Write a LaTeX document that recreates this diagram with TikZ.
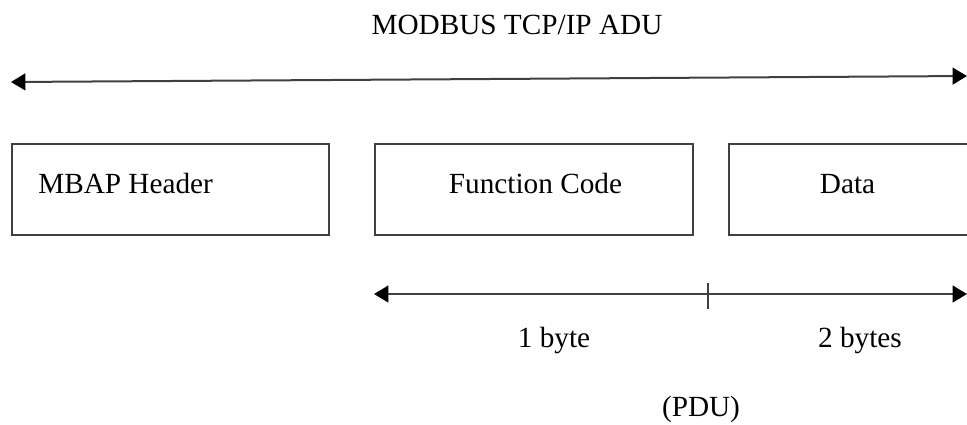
\documentclass[tikz,border=0pt]{standalone}
\usepackage{fontspec}
\setmainfont{Liberation Serif}
\usepackage{xcolor}
\usepackage{tikz}
\usetikzlibrary{arrows.meta}
\definecolor{linegray}{gray}{0.25}

\begin{document}
\begin{tikzpicture}[x=0.025cm, y=-0.025cm, >={Triangle[length=0.36cm, width=0.42cm, color=black]},
  field/.style={draw=linegray, line width=0.05cm, inner sep=0pt,
                minimum height=2.275cm, anchor=north west},
  span/.style={draw=linegray, line width=0.05cm},
  lbl/.style={font=\fontsize{20.8}{25}\selectfont, inner sep=0pt, anchor=base}]
  \useasboundingbox (0,0) rectangle (967,424);
  \node[lbl] (adu) at (517,34) {MODBUS TCP/IP ADU};
  \coordinate (adu-l) at (11,82);
  \coordinate (adu-r) at (967,76);
  \draw[span, <->] (adu-l) -- (adu-r);
  \node[field, minimum width=7.925cm] (mbap)  at (11,143)  {};
  \node[field, minimum width=7.95cm]  (fcode) at (374,143) {};
  \node[field, minimum width=6.2cm]   (data)  at (728,143) {};
  \node[lbl, anchor=base west] (mbap-txt) at (38,193) {MBAP Header};
  \node[lbl] (fcode-txt) at (535.5,193) {Function Code};
  \node[lbl] (data-txt)  at (847.5,193) {Data};
  \coordinate (pdu-l) at (374,294);
  \coordinate (pdu-r) at (967,294);
  \coordinate (tick-t) at (708,283);
  \coordinate (tick-b) at (708,309);
  \draw[span, <->] (pdu-l) -- (pdu-r);
  \draw[span] (tick-t) -- (tick-b);
  \node[lbl] (one-byte)  at (554,347) {1 byte};
  \node[lbl] (two-bytes) at (860,347) {2 bytes};
  \node[lbl] (pdu) at (701,416) {(PDU)};
\end{tikzpicture}
\end{document}
